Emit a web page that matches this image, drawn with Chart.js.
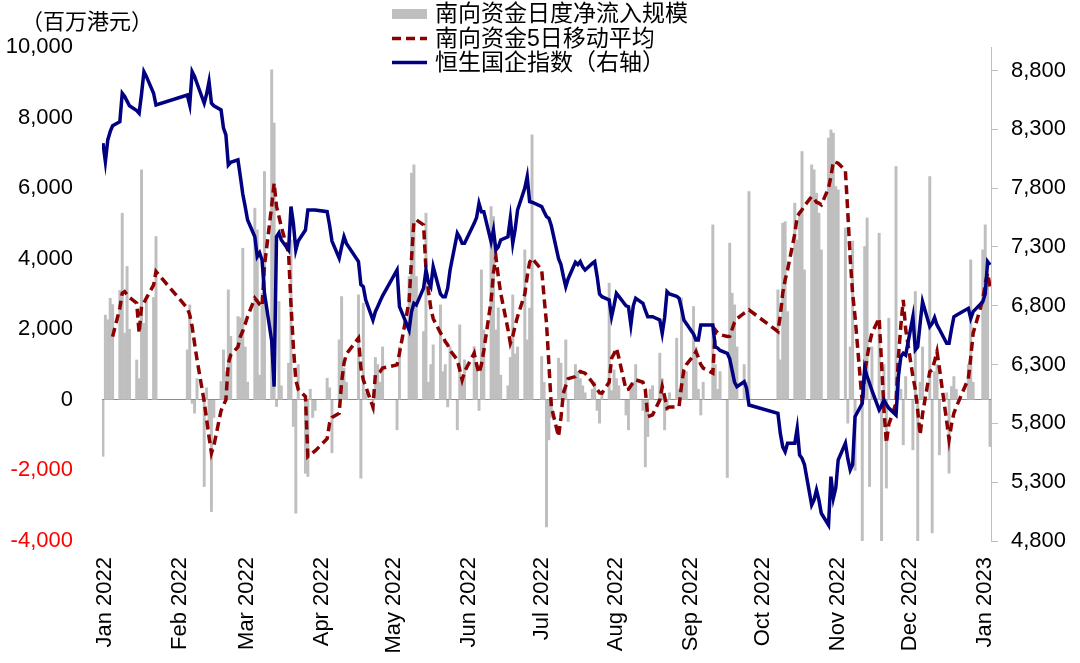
<!DOCTYPE html>
<html><head><meta charset="utf-8">
<script src="https://cdn.jsdelivr.net/npm/chart.js@4.4.1/dist/chart.umd.min.js"></script>
<style>html,body{margin:0;padding:0;background:#fff;}#wrap{width:1080px;height:663px;position:relative;}</style>
</head><body><div id="wrap"><canvas id="c" width="1080" height="663"></canvas></div>
<script>
// ---------- DATA ----------
const tradeMonths = ['2022-01','2022-02','2022-03','2022-04','2022-05','2022-06','2022-07','2022-08','2022-09','2022-10','2022-11','2022-12','2023-01'];
const tradeDays = [
  [3,4,5,6,7,10,11,12,13,14,17,18,19,20,21,24,25],
  [7,8,9,10,11,14,15,16,17,18,21,22,23,24,25,28],
  [1,2,3,4,7,8,9,10,11,14,15,16,17,18,21,22,23,24,25,28,29,30,31],
  [1,6,7,8,11,12,13,14,19,20,21,22,25,26,27,28,29],
  [5,6,10,11,12,13,16,17,18,19,20,23,24,25,26,27,30,31],
  [1,2,6,7,8,9,10,13,14,15,16,17,20,21,22,23,24,27,28,29,30],
  [4,5,6,7,8,11,12,13,14,15,18,19,20,21,22,25,26,27,28,29],
  [1,2,3,4,5,8,9,10,11,12,15,16,17,18,19,22,23,24,25,26,29,30,31],
  [1,2,5,6,7,8,9,13,14,15,16,19,20,21,22,23,26,27,28],
  [10,11,12,13,14,17,18,19,20,21,24,25,26,27,28,31],
  [1,2,3,4,7,8,9,10,11,14,15,16,17,18,21,22,23,24,25,28,29,30],
  [1,2,5,6,7,8,9,12,13,14,15,16,19,20,21,22,23,28,29,30],
  [3,4,5,6]
];
// 南向资金日度净流入规模 (百万港元)
const netFlow = [
  -1600,2400,2270,2880,2700,3100,5290,1890,3780,2000,1130,600,6520,2170,2800,2900,4630,
  1417,2692,-100,-377,600,-2457,340,-800,-3166,-500,519,1417,800,3117,1800,2361,
  2324,4298,1500,500,5432,4818,700,3024,6471,9352,7842,-189,2786,400,1040,4534,-756,-3212,1000,-2078,-2172,300,-500,
  -300,614,340,-1500,1700,2928,900,500,2975,-2220,2740,200,-300,1200,1000,500,1500,
  -850,1500,3495,6424,6660,3495,1936,5290,500,1000,1559,2692,800,1000,-200,1500,-850,2125,
  567,1134,1511,937,-300,3684,1984,5478,5195,1984,2607,700,400,1200,2975,1300,1500,4250,1700,2600,7510,
  1228,500,-3600,-1134,-500,1181,1040,300,1700,-614,1000,800,600,400,200,300,500,-300,-660,200,
  3306,265,850,600,400,-430,-850,400,500,1000,-300,-1900,-1040,300,400,1323,600,-850,-300,200,1749,300,2882,
  600,800,2645,1500,300,-430,500,4960,1000,300,800,-2200,4440,3024,2692,1500,1000,500,5904,
  3117,1134,5008,5050,2500,5574,4534,5290,7038,3684,6660,6518,5857,5290,4250,7416,
  7652,7558,6046,5950,4870,-660,1500,4500,-2000,-4050,4345,5157,-2457,1500,4723,-4050,1000,-2500,2315,6613,1000,300,
  -1275,660,-1417,3070,-4050,500,1500,6329,-3770,800,1000,-1559,200,-2078,377,660,300,1000,3968,500,
  4250,4960,3500,-1323
];
// 南向资金5日移动平均
const ma5 = [
  null,null,null,null,1790,2600,3024,3070,2980,2900,2740,1890,2644,2750,2882,3250,3636,
  2600,2409,2077,1600,1150,-50,-560,-1050,-1511,-1300,-300,-150,0,1040,1275,1500,
  1794,1950,2150,2361,2882,2800,2700,2644,3800,5500,6141,5478,5200,4900,4157,2700,1500,567,300,94,-1607,-1550,-1500,
  -1450,-1100,-660,-500,-380,500,1040,1300,1749,900,567,380,-200,700,750,800,900,
  992,1323,2800,4000,5053,5100,4960,3700,3100,2600,2300,1900,1800,1650,1559,1400,1134,850,
  567,800,1323,1000,757,1000,1400,2800,3600,4061,3500,3024,2000,1607,1800,2100,2361,3000,3500,3900,4016,
  3684,2900,2174,1000,-189,-1040,-500,189,400,600,660,750,803,780,757,500,400,300,200,189,
  500,1181,1300,1465,1200,283,300,400,500,567,500,283,-473,-450,-425,0,377,100,-235,-200,-200,-189,400,
  850,1000,1250,1370,1200,1000,900,757,1984,1900,1850,1794,1800,2000,2200,2300,2456,2500,2551,
  1937,2400,3024,3400,3684,4700,5195,5300,5385,5500,5762,5700,5600,5574,5526,6000,
  6329,6754,6730,6708,6500,5300,4000,3000,2361,-94,757,1200,1600,1890,2315,1040,-283,-1228,-700,-94,1228,2100,
  2834,2000,660,300,-300,-992,-400,800,850,1100,1370,900,-600,-1134,-700,-377,-200,600,1200,1890,
  2834,3300,3590,3211
];
// 恒生国企指数 (右轴)
const hscei = [
  8182,8025,8210,8280,8330,8365,8607,8580,8540,8500,8460,8437,8600,8790,8750,8607,8507,
  8592,8507,8790,8750,8692,8522,8600,8706,8522,8500,8465,8310,8252,7997,8020,8040,
  7900,7750,7643,7529,7387,7217,7250,7189,6906,6500,6112,7387,7420,7359,7274,7643,7500,7274,7350,7444,7614,7614,7614,
  7614,7600,7487,7350,7204,7300,7387,7330,7175,6980,6962,6850,6679,6750,6794,6840,6884,
  7104,6792,6594,6750,6821,6807,6950,7104,7000,6962,7132,6900,6877,6877,6950,7104,7416,7380,
  7331,7331,7501,7550,7671,7600,7600,7345,7444,7274,7300,7359,7387,7544,7331,7450,7614,7800,7898,7685,7680,
  7643,7600,7558,7544,7480,7200,7150,7050,6962,7030,7170,7150,7175,7130,7104,7160,7175,7050,6900,6877,
  6850,6707,6800,6906,6880,6800,6792,6637,6800,6864,6821,6760,6707,6707,6707,6679,6566,6700,6920,6900,6880,6864,6780,
  6679,6650,6560,6509,6509,6637,6637,6637,6452,6440,6420,6396,6350,6250,6150,6112,6154,6100,5956,
  5886,5715,5600,5559,5631,5631,5758,5531,5503,5450,5106,5150,5234,5150,5036,4936,
  5347,5163,5250,5489,5631,5500,5404,5450,5857,5971,6268,6200,6141,6080,5914,5950,5999,5960,5930,5871,6200,6367,
  6396,6380,6707,6424,6450,6650,6835,6622,6650,6700,6637,6600,6481,6481,6600,6707,6720,6778,6693,6750,
  6835,6900,7175,7147
];
const xTickLabels = ['Jan 2022','Feb 2022','Mar 2022','Apr 2022','May 2022','Jun 2022','Jul 2022','Aug 2022','Sep 2022','Oct 2022','Nov 2022','Dec 2022','Jan 2023'];
const leftTickValues = [-4000,-2000,0,2000,4000,6000,8000,10000];
const rightTickValues = [4800,5300,5800,6300,6800,7300,7800,8300,8800];
const seriesNames = ['南向资金日度净流入规模','南向资金5日移动平均','恒生国企指数（右轴）'];
const unitLabel = '（百万港元）';

// ---------- BUILD ----------
const BASE = Date.UTC(2022,0,1);
const toDay = (y,m,d) => (Date.UTC(y,m-1,d) - BASE) / 86400000;
const dayX = [];
tradeMonths.forEach((ym, i) => {
  const [y, m] = ym.split('-').map(Number);
  tradeDays[i].forEach(d => dayX.push(toDay(y, m, d)));
});
const monthTickDays = tradeMonths.map(ym => { const [y,m] = ym.split('-').map(Number); return toDay(y,m,1); });
const pts = arr => arr.map((v, i) => ({ x: dayX[i], y: v }));

const FONT = "'Liberation Sans', 'Noto Sans CJK SC', sans-serif";
Chart.defaults.font.family = FONT;
Chart.defaults.color = '#000';

const legendPlugin = {
  id: 'stackLegend',
  afterDraw(chart) {
    const ctx = chart.ctx;
    const rowsY = [14, 38.5, 62.5];
    const x0 = 392, w = 35, tx = 435;
    ctx.save();
    ctx.font = '23px ' + FONT;
    ctx.textBaseline = 'middle';
    ctx.textAlign = 'left';
    chart.data.datasets.forEach((ds, i) => {
      const y = rowsY[i];
      if (ds.type === 'bar') {
        ctx.fillStyle = ds.backgroundColor;
        ctx.fillRect(x0, y - 5, w, 10);
      } else {
        ctx.strokeStyle = ds.borderColor;
        ctx.lineWidth = ds.borderWidth;
        ctx.setLineDash(ds.borderDash || []);
        ctx.beginPath(); ctx.moveTo(x0, y); ctx.lineTo(x0 + w, y); ctx.stroke();
        ctx.setLineDash([]);
      }
      ctx.fillStyle = '#000';
      ctx.fillText(ds.label, tx, y + 1);
    });
    ctx.font = '22px ' + FONT;
    ctx.fillText(unitLabel, 21, 23);
    ctx.restore();
  }
};

new Chart(document.getElementById('c'), {
  type: 'bar',
  data: {
    datasets: [
      { type: 'bar', label: seriesNames[0], data: pts(netFlow), backgroundColor: '#BFBFBF', barThickness: 2.3, yAxisID: 'y', order: 3 },
      { type: 'line', label: seriesNames[1], data: pts(ma5), borderColor: '#8B0000', borderWidth: 3.5, borderDash: [9, 5], pointRadius: 0, fill: false, tension: 0, yAxisID: 'y', order: 2 },
      { type: 'line', label: seriesNames[2], data: pts(hscei), borderColor: '#000080', borderWidth: 3.5, pointRadius: 0, fill: false, tension: 0, yAxisID: 'y1', order: 1 }
    ]
  },
  options: {
    responsive: false, animation: false, devicePixelRatio: 1,
    layout: { padding: { left: 4, right: 4, top: 47, bottom: 0 } },
    plugins: { legend: { display: false }, tooltip: { enabled: false } },
    scales: {
      x: {
        type: 'linear', min: 1.6, max: 370.4, offset: false,
        grid: { display: false, drawTicks: false },
        border: { display: false },
        afterBuildTicks: s => { s.ticks = monthTickDays.map(v => ({ value: v })); },
        afterFit: s => { s.height = 122; },
        ticks: { autoSkip: false, minRotation: 90, maxRotation: 90, padding: 16, labelOffset: 7, color: '#000', font: { size: 22 },
          callback: (v, i) => xTickLabels[i] }
      },
      y: {
        position: 'left', min: -4000, max: 10000,
        afterBuildTicks: s => { s.ticks = leftTickValues.map(v => ({ value: v })); },
        afterFit: s => { s.width = 98; },
        grid: { drawTicks: false, lineWidth: 1, color: c => (c.tick && c.tick.value === 0) ? '#8C8C8C' : 'rgba(0,0,0,0)' },
        border: { display: false },
        ticks: { padding: 29, font: { size: 22 }, color: c => (c.tick && c.tick.value < 0) ? '#FF0000' : '#000000',
          callback: v => v.toLocaleString('en-US') }
      },
      y1: {
        position: 'right', min: 4800, max: 9000,
        afterBuildTicks: s => { s.ticks = rightTickValues.map(v => ({ value: v })); },
        afterFit: s => { s.width = 85; },
        grid: { drawOnChartArea: false, drawTicks: true, tickLength: 7, color: '#BFBFBF', lineWidth: 1 },
        border: { display: true, color: '#BFBFBF', width: 1 },
        ticks: { padding: 13, font: { size: 22 }, color: '#000', callback: v => v.toLocaleString('en-US') }
      }
    }
  },
  plugins: [legendPlugin]
});
</script></body></html>
